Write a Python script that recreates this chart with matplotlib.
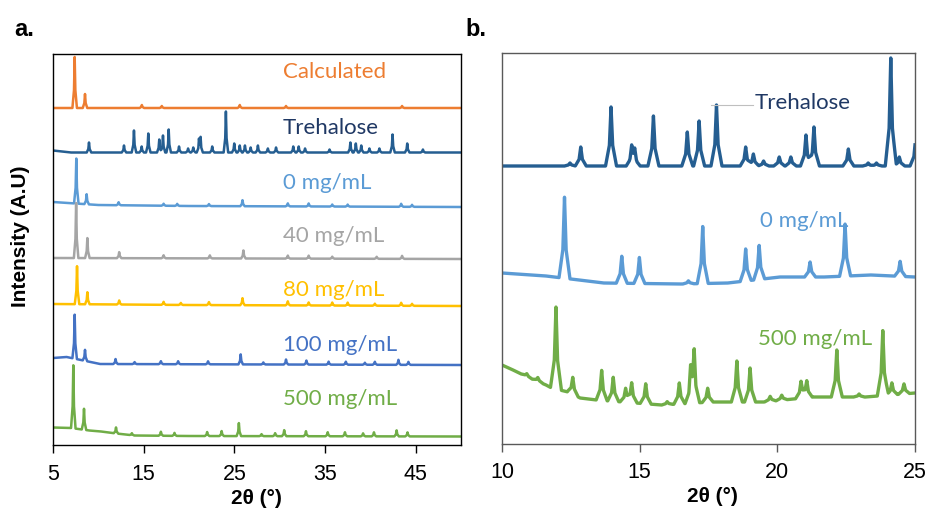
import numpy as np
import matplotlib.pyplot as plt

plt.rcParams['font.family'] = ['Liberation Sans', 'DejaVu Sans']

# ---- panel a: 2theta 5-50, stacked patterns ----
# peaks: (2theta, height above baseline), heights in arbitrary units
calc_pk = [(7.39, 51), (8.53, 14), (14.8, 3), (17.0, 2), (25.6, 3), (30.7, 2), (43.5, 2)]
tre_pk = [(8.97, 10), (12.83, 7), (13.93, 22), (14.78, 6), (15.51, 19), (16.72, 13),
          (17.13, 17), (17.76, 23), (18.9, 6), (19.9, 4), (20.47, 5), (21.1, 12),
          (21.28, 14), (22.56, 6), (24.07, 41), (24.99, 9), (25.6, 7), (26.17, 7),
          (26.8, 5), (27.6, 7), (28.7, 4), (29.6, 5), (31.5, 6), (32.1, 6), (32.8, 4),
          (35.5, 3), (37.8, 10), (38.4, 9), (39.0, 7), (39.9, 4), (41.0, 4),
          (42.45, 18), (44.07, 9), (45.8, 3)]
mg0_pk = [(7.57, 45), (8.71, 10), (12.24, 3), (17.2, 2), (18.7, 2), (22.2, 2), (25.9, 6),
          (30.9, 3), (33.2, 3), (35.8, 2), (37.5, 2), (43.4, 3), (44.6, 2)]
mg40_pk = [(7.55, 55), (8.79, 20), (12.3, 6), (17.2, 3), (22.3, 3), (26.0, 8), (30.9, 3),
           (33.2, 3), (35.8, 2), (40.7, 2), (43.5, 3)]
mg80_pk = [(7.65, 38), (8.79, 12), (12.3, 4), (17.2, 3), (19.1, 2), (22.2, 3), (25.9, 7),
           (30.9, 4), (33.2, 3), (35.8, 3), (37.5, 3), (40.5, 2), (43.4, 3), (44.6, 2)]
mg100_pk = [(7.39, 44), (8.53, 11), (11.9, 5), (14.0, 2), (16.9, 3), (18.8, 3), (22.1, 3),
            (25.7, 10), (28.2, 2), (30.7, 5), (32.95, 4), (35.4, 3), (37.3, 3), (39.4, 2),
            (40.5, 3), (43.1, 5), (44.2, 3)]
mg500_pk = [(7.24, 63), (8.42, 21), (11.95, 6), (13.7, 2), (16.9, 4), (18.4, 3), (22.0, 4),
            (23.6, 5), (25.5, 13), (28.0, 2), (29.5, 3), (30.5, 6), (32.9, 5), (35.3, 4),
            (37.2, 4), (39.2, 3), (40.4, 4), (42.9, 6), (44.1, 4)]

# baselines: (2theta, level)
calc_bl = [(5, 0), (50, 0)]
tre_bl = [(5, 2), (7, 0), (50, 0)]
mg0_bl = [(5, 5), (10, 2), (20, 1), (50, 0)]
mg40_bl = [(5, 1), (50, 0)]
mg80_bl = [(5, 2), (20, 1), (50, 0)]
mg100_bl = [(5, 7), (6.5, 8), (10.2, 1), (50, 0)]
mg500_bl = [(5, 9), (7, 8.5), (9, 6), (10.3, 5), (12, 3), (14, 1), (20, 0.5), (50, 0)]

names_a = ['Calculated', 'Trehalose', '0 mg/mL', '40 mg/mL', '80 mg/mL', '100 mg/mL', '500 mg/mL']
peaks_a = [calc_pk, tre_pk, mg0_pk, mg40_pk, mg80_pk, mg100_pk, mg500_pk]
base_a = [calc_bl, tre_bl, mg0_bl, mg40_bl, mg80_bl, mg100_bl, mg500_bl]
colors_a = ['#ED7D31', '#255E91', '#5B9BD5', '#A5A5A5', '#FFC000', '#4472C4', '#70AD47']
label_colors_a = ['#ED7D31', '#1F3864', '#5B9BD5', '#A5A5A5', '#FFC000', '#4472C4', '#70AD47']
offsets_a = [337, 292.5, 238, 186, 139, 80, 8.5]
label_pix_a = [72, 128, 183, 236, 290, 345, 399]

# ---- panel b: 2theta 10-25 ----
tre_b_pk = [(12.47, 3), (12.86, 19), (13.96, 59), (14.71, 18), (14.82, 14), (15.5, 50),
            (16.73, 34), (17.16, 45), (17.79, 61), (18.85, 19), (19.13, 12), (19.5, 5),
            (20.07, 9), (20.49, 9), (21.04, 31), (21.33, 39), (22.58, 17), (23.3, 3),
            (23.6, 3), (24.12, 108), (24.43, 9), (25.02, 27)]
mg0_b_pk = [(12.27, 81), (14.35, 27), (14.99, 26), (16.77, 3), (17.29, 57), (18.85, 32),
            (19.34, 34), (21.19, 15), (22.46, 52), (24.46, 15)]
mg500_b_pk = [(10.9, 3), (11.3, 4), (11.96, 82), (12.57, 17), (13.62, 30), (14.04, 24),
              (14.49, 14), (14.71, 20), (15.22, 20), (16.0, 3), (16.44, 21), (16.85, 30),
              (16.98, 49), (17.47, 14), (18.53, 41), (19.01, 34), (19.74, 5), (20.16, 5),
              (20.86, 17), (21.07, 17), (22.16, 47), (22.97, 3), (23.83, 65), (24.16, 12),
              (24.6, 10)]
tre_b_bl = [(10, 0), (25, 0)]
mg0_b_bl = [(10, 11), (11.6, 8), (13.7, 1), (16.5, 0), (18.2, 1), (20.1, 7), (21.7, 7),
            (23.4, 9), (25, 7)]
mg500_b_bl = [(10, 40), (10.4, 35), (11.0, 27), (11.6, 20), (11.8, 17), (12.1, 15),
              (12.4, 13), (12.84, 7), (13.44, 5), (15.8, 0), (17.6, 3), (19.5, 3),
              (21.3, 8), (23.2, 8), (25, 12)]

names_b = ['Trehalose', '0 mg/mL', '500 mg/mL']
peaks_b = [tre_b_pk, mg0_b_pk, mg500_b_pk]
base_b = [tre_b_bl, mg0_b_bl, mg500_b_bl]
colors_b = ['#255E91', '#5B9BD5', '#70AD47']
label_colors_b = ['#1F3864', '#5B9BD5', '#70AD47']
offsets_b = [278, 160, 39]
label_b = [(755, 103), (760, 221), (758, 339)]

# peak outline: offsets from the peak centre (in units of hw) and fraction of height
shape_dx = [-1.0, -0.3, 0.0, 0.3, 1.0]
shape_f = [0.0, 0.35, 1.0, 0.35, 0.0]


def trace(peaks, base, x0, x1, hw):
    # polyline through baseline anchors and the outline points of every peak
    pos = np.array([p[0] for p in peaks])
    hgt = np.array([p[1] for p in peaks])
    bx = np.array([b[0] for b in base], float)
    by = np.array([b[1] for b in base], float)
    xs = np.concatenate([bx] + [pos + d * hw for d in shape_dx])
    xs = np.unique(np.clip(xs, x0, x1))
    ys = np.interp(xs, bx, by)
    for p, h in zip(pos, hgt):
        ys += h * np.interp(xs - p, np.array(shape_dx) * hw, shape_f, left=0, right=0)
    return xs, ys


fig = plt.figure(figsize=(9.31, 5.12), dpi=100)
W, H = 931, 512
lab_font = ['Lato', 'DejaVu Sans']

ax1 = fig.add_axes([53 / W, 1 - 445 / H, 408 / W, 391 / H])
for pk, bl, off, c in zip(peaks_a, base_a, offsets_a, colors_a):
    xs, ys = trace(pk, bl, 5, 50, 0.25)
    ax1.plot(xs, ys + off, color=c, lw=1.8, solid_joinstyle='round')
ax1.set_xlim(5, 50)
ax1.set_ylim(0, 391)
ax1.set_xticks([5, 15, 25, 35, 45])
ax1.set_yticks([])
for s in ax1.spines.values():
    s.set_color('#000000')
    s.set_linewidth(1.0)
ax1.tick_params(axis='x', direction='out', length=6, width=1, labelsize=15.5, pad=8)
for name, lc, py in zip(names_a, label_colors_a, label_pix_a):
    fig.text(283 / W, 1 - py / H, name, color=lc, fontsize=16,
             family=lab_font, va='center', ha='left')
fig.text(21 / W, 1 - 236 / H, 'Intensity (A.U)', rotation=90, fontsize=15,
         fontweight='bold', va='center', ha='center')
fig.text(256 / W, 1 - 498 / H, '2θ (°)', fontsize=15, fontweight='bold',
         va='center', ha='center')

ax2 = fig.add_axes([502 / W, 1 - 444 / H, 413 / W, 391 / H])
for pk, bl, off, c in zip(peaks_b, base_b, offsets_b, colors_b):
    xs, ys = trace(pk, bl, 10, 25, 0.2)
    ax2.plot(xs, ys + off, color=c, lw=2.4, solid_joinstyle='round')
ax2.set_xlim(10, 25)
ax2.set_ylim(0, 391)
ax2.set_xticks([10, 15, 20, 25])
ax2.set_yticks([])
for s in ax2.spines.values():
    s.set_color('#595959')
    s.set_linewidth(1.0)
ax2.tick_params(axis='x', direction='out', length=6, width=1, color='#595959',
                labelsize=15.5, pad=7)
fig.text(712 / W, 1 - 497 / H, '2θ (°)', fontsize=15, fontweight='bold',
         va='center', ha='center')
for name, lc, (px, py) in zip(names_b, label_colors_b, label_b):
    fig.text(px / W, 1 - py / H, name, color=lc, fontsize=16,
             family=lab_font, va='center', ha='left')
# leader line for the Trehalose label
ax2.plot([17.6, 19.1], [339, 339], color='#BFBFBF', lw=0.8)

fig.text(14 / W, 1 - 29 / H, 'a.', fontsize=17, fontweight='bold', va='center')
fig.text(465 / W, 1 - 29 / H, 'b.', fontsize=17, fontweight='bold', va='center')

fig.savefig('out.png', dpi=100)
